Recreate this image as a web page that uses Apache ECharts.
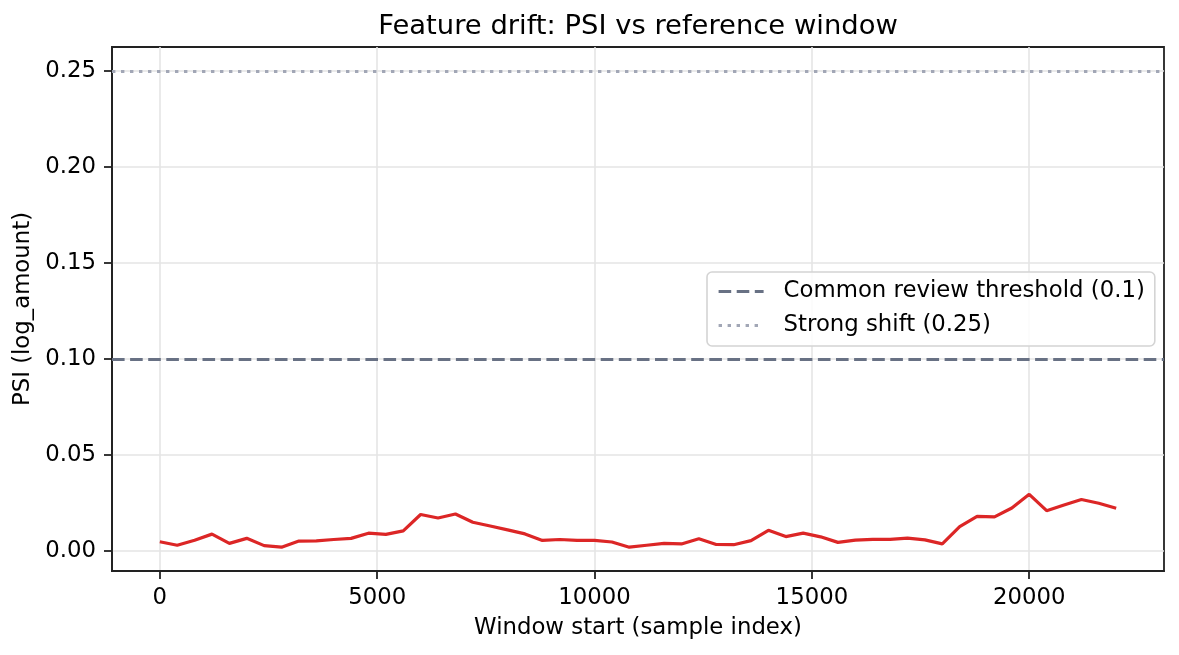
<!DOCTYPE html>
<html>
<head>
<meta charset="utf-8">
<script src="https://cdn.jsdelivr.net/npm/echarts@6/dist/echarts.min.js"></script>
<style>
  html, body { margin: 0; padding: 0; background: #fff; }
  #chart { width: 1179px; height: 655px; }
</style>
</head>
<body>
<div id="chart"></div>
<script>
const windowStarts = [
  0, 400, 800, 1200, 1600, 2000, 2400, 2800, 3200, 3600,
  4000, 4400, 4800, 5200, 5600, 6000, 6400, 6800, 7200, 7600,
  8000, 8400, 8800, 9200, 9600, 10000, 10400, 10800, 11200, 11600,
  12000, 12400, 12800, 13200, 13600, 14000, 14400, 14800, 15200, 15600,
  16000, 16400, 16800, 17200, 17600, 18000, 18400, 18800, 19200, 19600,
  20000, 20400, 20800, 21200, 21600, 22000
];
const psiValues = [
  0.0048, 0.0030, 0.0056, 0.0088, 0.0040, 0.0066, 0.0028, 0.0020, 0.0052, 0.0053,
  0.0060, 0.0066, 0.0093, 0.0087, 0.0105, 0.0190, 0.0172, 0.0193, 0.0150, 0.0130,
  0.0110, 0.0089, 0.0055, 0.0060, 0.0055, 0.0055, 0.0047, 0.0020, 0.0030, 0.0040,
  0.0037, 0.0064, 0.0034, 0.0033, 0.0054, 0.0108, 0.0075, 0.0093, 0.0074, 0.0045,
  0.0057, 0.0061, 0.0061, 0.0067, 0.0058, 0.0037, 0.0127, 0.0180, 0.0178, 0.0224,
  0.0295, 0.0210, 0.0240, 0.0268, 0.0249, 0.0223
];
const xTicks = [0, 5000, 10000, 15000, 20000];
const yTicks = [0, 0.05, 0.10, 0.15, 0.20, 0.25];
const reviewThreshold = 0.1;
const strongShift = 0.25;

const FONT = 'DejaVu Sans';
const FS = 22.8;
const chart = echarts.init(document.getElementById('chart'));

const gridLine = { show: true, lineStyle: { color: '#e5e5e5', width: 1.6 } };
const frame = { color: '#222', width: 1.8 };

const option = {
  animation: false,
  backgroundColor: '#ffffff',
  textStyle: { fontFamily: FONT },
  title: {
    text: 'Feature drift: PSI vs reference window',
    left: 638,
    top: 13,
    padding: 0,
    textAlign: 'center',
    textStyle: { fontFamily: FONT, fontSize: 27.4, fontWeight: 'normal', color: '#000' }
  },
  legend: {
    orient: 'vertical',
    left: 707,
    top: 272,
    padding: [8, 10, 9, 10],
    itemGap: 11,
    itemWidth: 45,
    itemHeight: 14,
    backgroundColor: 'rgba(255,255,255,0.85)',
    borderColor: '#d4d4d4',
    borderWidth: 1.6,
    borderRadius: 5,
    itemStyle: { color: 'rgba(0,0,0,0)', opacity: 0, borderWidth: 0 },
    lineStyle: { width: 3.2, opacity: 1 },
    data: ['Common review threshold (0.1)', 'Strong shift (0.25)'],
    textStyle: { fontFamily: FONT, fontSize: FS, color: '#000', padding: [0, 0, 0, 15] }
  },
  grid: {
    left: 112, right: 15, top: 47, bottom: 84,
    show: true, borderColor: frame.color, borderWidth: frame.width,
    containLabel: false
  },
  xAxis: {
    type: 'value',
    min: -1100,
    max: 23100,
    name: 'Window start (sample index)',
    nameLocation: 'middle',
    nameGap: 46,
    nameTextStyle: { fontFamily: FONT, fontSize: FS, color: '#000' },
    axisLine: { show: true, onZero: false, lineStyle: frame },
    axisTick: { show: true, customValues: xTicks, length: 8, lineStyle: frame },
    axisLabel: {
      customValues: xTicks, fontSize: FS, color: '#000', margin: 16, fontFamily: FONT,
      formatter: v => String(v)
    },
    splitLine: gridLine
  },
  yAxis: {
    type: 'value',
    min: -0.0104,
    max: 0.2624,
    name: 'PSI (log_amount)',
    nameLocation: 'middle',
    nameGap: 76,
    nameTextStyle: { fontFamily: FONT, fontSize: FS, color: '#000' },
    axisLine: { show: true, onZero: false, lineStyle: frame },
    axisTick: { show: true, customValues: yTicks, length: 8, lineStyle: frame },
    axisLabel: {
      customValues: yTicks, fontSize: FS, color: '#000', margin: 16, fontFamily: FONT,
      formatter: v => v.toFixed(2)
    },
    splitLine: gridLine
  },
  series: [
    {
      name: 'PSI',
      type: 'line',
      data: windowStarts.map((x, i) => [x, psiValues[i]]),
      symbol: 'none',
      lineStyle: { color: '#dc2626', width: 3.2 },
      itemStyle: { color: '#dc2626' },
      z: 5
    },
    {
      name: 'Common review threshold (0.1)',
      type: 'line',
      data: [],
      symbol: 'none',
      itemStyle: { color: '#687184' },
      lineStyle: { color: '#687184', width: 3.2, type: [12.6, 5.5] },
      markLine: {
        silent: true,
        symbol: 'none',
        label: { show: false },
        lineStyle: { color: '#687184', width: 3.2, type: [12.6, 5.5] },
        data: [{ yAxis: reviewThreshold }]
      }
    },
    {
      name: 'Strong shift (0.25)',
      type: 'line',
      data: [],
      symbol: 'none',
      itemStyle: { color: '#a2a7b6' },
      lineStyle: { color: '#a2a7b6', width: 3.2, type: [3.4, 5.6] },
      markLine: {
        silent: true,
        symbol: 'none',
        label: { show: false },
        lineStyle: { color: '#a2a7b6', width: 3.2, type: [3.4, 5.6] },
        data: [{ yAxis: strongShift }]
      }
    }
  ]
};

chart.setOption(option);
</script>
</body>
</html>
